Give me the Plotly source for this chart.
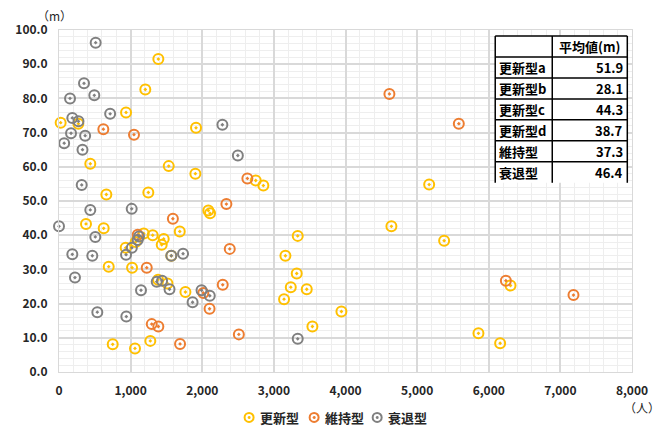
import plotly.graph_objects as go

# 人口（人）と 距離（m）: 類型ごとの散布データ
koshin_x = [23, 270, 936, 1205, 1387, 1913, 437, 1532, 1904, 661, 1247, 377, 624,
            931, 1070, 1183, 1308, 1462, 1434, 1686, 1568, 694, 1020, 1383, 1515,
            1765, 2085, 2109, 750, 1061, 1275, 2747, 2853, 5168, 4641, 5377, 3333,
            3161, 3319, 3236, 3459, 3142, 3943, 3538, 6304, 5856, 6159]
koshin_y = [72.9, 72.6, 75.9, 82.6, 91.5, 71.4, 60.9, 60.2, 58.0, 51.9, 52.5, 43.3, 42.0,
            36.3, 38.0, 40.5, 40.0, 38.9, 37.2, 41.1, 34.0, 30.8, 30.5, 27.0, 25.9,
            23.4, 47.2, 46.4, 8.1, 6.9, 9.1, 56.0, 54.5, 54.8, 42.6, 38.4, 39.8,
            34.0, 28.8, 24.8, 24.2, 21.3, 17.7, 13.3, 25.3, 11.3, 8.4]

iji_x = [619, 1047, 2337, 1590, 2384, 1099, 1225, 2015, 2286, 2102, 1295, 1387,
         1690, 2511, 2630, 4613, 5582, 6239, 7183]
iji_y = [71.0, 69.4, 49.1, 44.8, 36.0, 40.1, 30.5, 23.1, 25.5, 18.5, 14.0, 13.3,
         8.2, 11.0, 56.6, 81.3, 72.6, 26.7, 22.5]

suitai_x = [512, 349, 154, 493, 714, 186, 272, 168, 365, 72, 328, 317, 2281, 2497,
            437, 1015, 0, 507, 186, 465, 936, 1017, 1099, 1117, 1568, 1732, 223,
            1145, 1364, 1439, 1543, 1865, 1990, 2105, 535, 940, 3333]
suitai_y = [96.3, 84.4, 80.0, 80.9, 75.5, 74.3, 73.3, 69.8, 69.1, 66.9, 65.0, 54.7, 72.3, 63.3,
            47.4, 47.7, 42.6, 39.5, 34.4, 34.0, 34.3, 36.3, 38.6, 39.6, 34.0, 34.6, 27.6,
            23.9, 26.4, 26.7, 24.2, 20.4, 23.9, 22.3, 17.5, 16.2, 9.7]

# 平均値の表
table_labels = ["更新型a", "更新型b", "更新型c", "更新型d", "維持型", "衰退型"]
table_values = [51.9, 28.1, 44.3, 38.7, 37.3, 46.4]
table_header = "平均値(m)"

series = [
    ("更新型", koshin_x, koshin_y, "#FFC000"),
    ("維持型", iji_x, iji_y, "#ED7D31"),
    ("衰退型", suitai_x, suitai_y, "#808080"),
]

FONT = "Noto Sans CJK JP"
W, H = 668, 428
L, R, T, B = 59, 36.3, 30, 55.5
PW, PH = W - L - R, H - T - B

fig = go.Figure()
for name, xs, ys, col in series:
    fig.add_trace(go.Scatter(
        x=xs, y=ys, mode="markers", name=name, cliponaxis=False, showlegend=False,
        marker=dict(symbol="circle-open-dot", size=10, color=col,
                    line=dict(width=2, color=col)),
    ))


def px_x(v):
    return (v - L) / PW


def px_y(v):
    return (H - B - v) / PH


# 表の枠と文字
tx0, tx1, tx2 = 495, 552, 627
ty0, row_h = 36, 21
n_rows = len(table_labels) + 1
ty_end = ty0 + row_h * n_rows
shapes = [dict(type="rect", xref="paper", yref="paper",
               x0=px_x(tx0), x1=px_x(tx2), y0=px_y(ty0), y1=px_y(ty_end),
               fillcolor="white", line=dict(width=0), layer="above")]
line_style = dict(color="black", width=1.5)
for i in range(n_rows):
    yy = ty0 + row_h * i
    shapes.append(dict(type="line", xref="paper", yref="paper",
                       x0=px_x(tx0), x1=px_x(tx2), y0=px_y(yy), y1=px_y(yy),
                       line=line_style, layer="above"))
for xx in (tx0, tx1, tx2):
    shapes.append(dict(type="line", xref="paper", yref="paper",
                       x0=px_x(xx), x1=px_x(xx), y0=px_y(ty0), y1=px_y(ty_end),
                       line=line_style, layer="above"))

cell_font = dict(family=FONT, size=13, color="black", weight="bold")
annotations = [dict(xref="paper", yref="paper", x=px_x((tx1 + tx2) / 2), y=px_y(ty0 + row_h / 2),
                    text=table_header, showarrow=False, xanchor="center", yanchor="middle",
                    font=cell_font)]
for i, (lab, val) in enumerate(zip(table_labels, table_values)):
    yc = ty0 + row_h * (i + 1.5)
    annotations.append(dict(xref="paper", yref="paper", x=px_x(tx0 + 2), y=px_y(yc),
                            text=lab, showarrow=False, xanchor="left", yanchor="middle",
                            font=cell_font))
    annotations.append(dict(xref="paper", yref="paper", x=px_x(tx2 - 2), y=px_y(yc),
                            text=f"{val:.1f}", showarrow=False, xanchor="right", yanchor="middle",
                            font=cell_font))

# 軸の単位
annotations.append(dict(xref="paper", yref="paper", x=px_x(55), y=px_y(15), text="（m）",
                        showarrow=False, xanchor="center", yanchor="middle",
                        font=dict(family=FONT, size=12, color="#262626")))
annotations.append(dict(xref="paper", yref="paper", x=px_x(642), y=px_y(408), text="（人）",
                        showarrow=False, xanchor="center", yanchor="middle",
                        font=dict(family=FONT, size=12, color="#262626")))

# 凡例（記号と名前）
legend_cx = [249, 314, 377]
legend_cy = 418
for (name, _, _, col), cx in zip(series, legend_cx):
    shapes.append(dict(type="circle", xref="paper", yref="paper",
                       x0=px_x(cx - 4.5), x1=px_x(cx + 4.5),
                       y0=px_y(legend_cy + 4.5), y1=px_y(legend_cy - 4.5),
                       line=dict(color=col, width=2), fillcolor="white"))
    shapes.append(dict(type="circle", xref="paper", yref="paper",
                       x0=px_x(cx - 1.5), x1=px_x(cx + 1.5),
                       y0=px_y(legend_cy + 1.5), y1=px_y(legend_cy - 1.5),
                       line=dict(color=col, width=0), fillcolor=col))
    annotations.append(dict(xref="paper", yref="paper", x=px_x(cx + 9), y=px_y(legend_cy),
                            text=name, showarrow=False, xanchor="left", yanchor="middle",
                            font=dict(family=FONT, size=13, color="#262626", weight="bold")))

tick_font = dict(family=FONT, size=12, color="#262626", weight="bold")
grid_major = "#D9D9D9"
grid_minor = "#EEEEEE"

fig.update_layout(
    width=W, height=H,
    margin=dict(l=L, r=R, t=T, b=B, autoexpand=False),
    paper_bgcolor="white", plot_bgcolor="white",
    font=dict(family=FONT, color="#262626"),
    shapes=shapes, annotations=annotations,
    showlegend=False,
    xaxis=dict(range=[0, 8000], dtick=1000, tickformat=",d", tickfont=tick_font,
               showgrid=True, gridcolor=grid_major, gridwidth=1.5,
               minor=dict(dtick=200, showgrid=True, gridcolor=grid_minor, gridwidth=1),
               showline=True, linecolor=grid_major, mirror=True, zeroline=False,
               ticks="", ticklabelstandoff=8, automargin=False),
    yaxis=dict(range=[0, 100], dtick=10, tickformat=".1f", tickfont=tick_font,
               showgrid=True, gridcolor=grid_major, gridwidth=1.5,
               minor=dict(dtick=2, showgrid=True, gridcolor=grid_minor, gridwidth=1),
               showline=True, linecolor=grid_major, mirror=True, zeroline=False,
               ticks="", ticklabelstandoff=8, automargin=False),
)

fig.write_html("out.html")
